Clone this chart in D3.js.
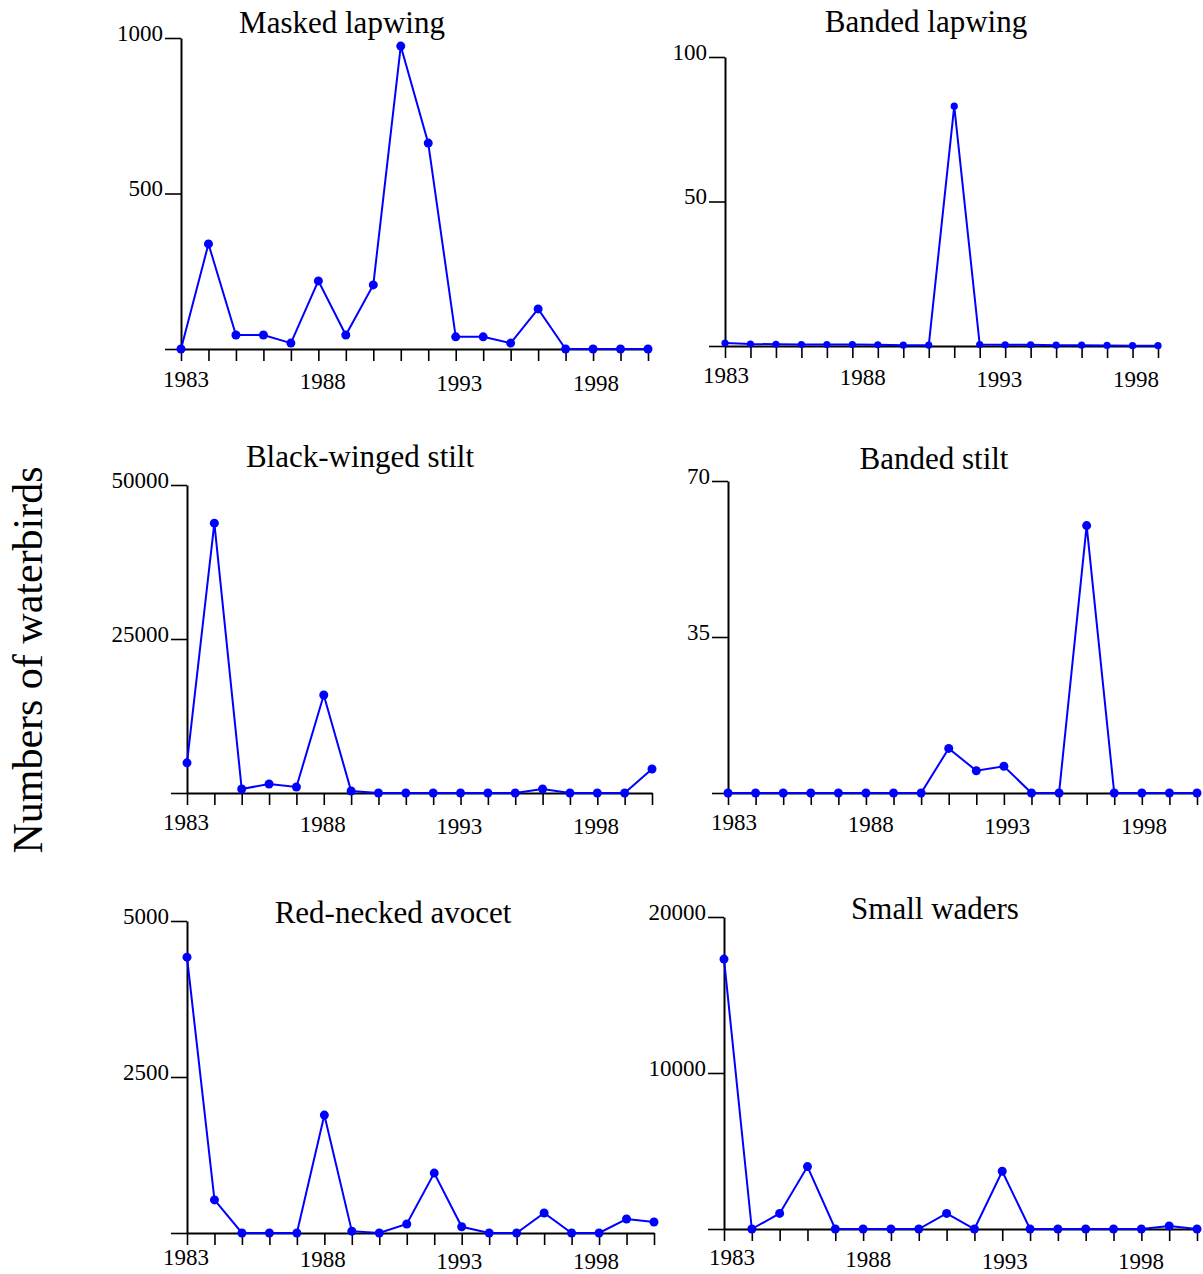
<!DOCTYPE html>
<html>
<head>
<meta charset="utf-8">
<style>
    body { margin: 0; background: #fff; }
    svg { display: block; font-family: 'Liberation Serif', 'Times New Roman', serif; }
    .axis path, .axis line { stroke: #000; }
    .axis .domain { stroke-width: 2px; }
    .axis .tick line { stroke-width: 1.6px; }
    .axis text { font-size: 23px; fill: #000; font-family: 'Liberation Serif', serif; }
    .title { font-size: 31px; text-anchor: middle; }
    .year { font-size: 23px; text-anchor: middle; }
    .ylabel { font-size: 42px; text-anchor: middle; }
</style>
</head>
<body>
<svg width="1203" height="1274"></svg>
<script src="https://d3js.org/d3.v7.min.js"></script>
<script>
    // ---- data ----
    let years = d3.range(1983, 2001);
    let yearLabels = [1983, 1988, 1993, 1998];

    let titles = ["Masked lapwing", "Banded lapwing", "Black-winged stilt",
        "Banded stilt", "Red-necked avocet", "Small waders"];

    let maskedLapwing = [0, 338, 45, 45, 19, 219, 45, 206, 974, 662, 39, 39, 19, 129, 0, 0, 0, 0];
    let bandedLapwing = [1, 0.7, 0.6, 0.5, 0.5, 0.5, 0.4, 0.3, 0.3, 83, 0.5, 0.4, 0.4, 0.3, 0.3, 0.2, 0.1, 0.1];
    let blackWingedStilt = [4900, 43800, 650, 1460, 970, 15900, 320, 0, 0, 0, 0, 0, 0, 650, 0, 0, 0, 3900];
    let bandedStilt = [0, 0, 0, 0, 0, 0, 0, 0, 10, 5, 6, 0, 0, 60, 0, 0, 0, 0];
    let redNeckedAvocet = [4420, 530, 0, 0, 0, 1890, 30, 0, 145, 960, 100, 0, 0, 320, 0, 0, 224, 176];
    let smallWaders = [17300, 0, 1000, 4000, 0, 0, 0, 0, 1000, 0, 3700, 0, 0, 0, 0, 0, 190, 0];

    let series = [maskedLapwing, bandedLapwing, blackWingedStilt, bandedStilt, redNeckedAvocet, smallWaders];
    let yTicks = [[0, 500, 1000], [0, 50, 100], [0, 25000, 50000], [0, 35, 70], [0, 2500, 5000], [0, 10000, 20000]];

    // ---- layout (pixel positions of each panel) ----
    let panels = [
        { left: 181, right: 648, top: 38, zero: 349, titleX: 342, titleY: 33, lab0: 186, lab1: 596, labY: 38, r: 4.5 },
        { left: 725, right: 1158, top: 57, zero: 346, titleX: 926, titleY: 32, lab0: 726, lab1: 1136, labY: 37, r: 3.6 },
        { left: 187, right: 652, top: 485, zero: 793, titleX: 360, titleY: 467, lab0: 186, lab1: 596, labY: 37, r: 4.5 },
        { left: 728, right: 1197, top: 481, zero: 793, titleX: 934, titleY: 469, lab0: 734, lab1: 1144, labY: 37, r: 4.5 },
        { left: 187, right: 654, top: 921, zero: 1233, titleX: 393, titleY: 923, lab0: 186, lab1: 596, labY: 32, r: 4.5 },
        { left: 724, right: 1197, top: 917, zero: 1229, titleX: 935, titleY: 919, lab0: 732, lab1: 1141, labY: 36, r: 4.5 }
    ];
    let labelDy = [0, 2, 4, 4];

    let svg = d3.select("svg");

    panels.forEach(function (p, i) {
        let values = series[i];
        let ticks = yTicks[i];

        let x = d3.scaleLinear().domain([1983, 2000]).range([p.left, p.right]);
        let y = d3.scaleLinear().domain([0, ticks[2]]).range([p.zero, p.top]);
        let xl = d3.scaleLinear().domain([1983, 1998]).range([p.lab0, p.lab1]);

        let g = svg.append("g");

        // x axis: baseline plus one tick per year
        g.append("g")
            .attr("class", "axis")
            .attr("transform", `translate(0,${p.zero})`)
            .call(d3.axisBottom(x).tickValues(years).tickSize(12).tickSizeOuter(0).tickFormat(""));

        // y axis
        g.append("g")
            .attr("class", "axis")
            .attr("transform", `translate(${p.left},0)`)
            .call(d3.axisLeft(y).tickValues(ticks).tickSize(16).tickSizeOuter(0)
                .tickPadding(2).tickFormat(d => d === 0 ? "" : d))
            .call(a => a.selectAll("text").attr("dy", "0.1em"));

        // year labels
        g.selectAll(".year")
            .data(yearLabels)
            .join("text")
            .attr("class", "year")
            .attr("x", d => xl(d))
            .attr("y", (d, k) => p.zero + p.labY + labelDy[k])
            .text(d => d);

        // line + dots
        let line = d3.line()
            .x((d, k) => x(years[k]))
            .y(d => y(d));

        g.append("path")
            .datum(values)
            .attr("fill", "none")
            .attr("stroke", "#0000ff")
            .attr("stroke-width", 2)
            .attr("d", line);

        g.selectAll("circle")
            .data(values)
            .join("circle")
            .attr("cx", (d, k) => x(years[k]))
            .attr("cy", d => y(d))
            .attr("r", p.r)
            .attr("fill", "#0000ff");

        g.append("text")
            .attr("class", "title")
            .attr("x", p.titleX)
            .attr("y", p.titleY)
            .text(titles[i]);
    });

    svg.append("text")
        .attr("class", "ylabel")
        .attr("transform", "translate(42,660) rotate(-90)")
        .text("Numbers of waterbirds");
</script>
</body>
</html>
